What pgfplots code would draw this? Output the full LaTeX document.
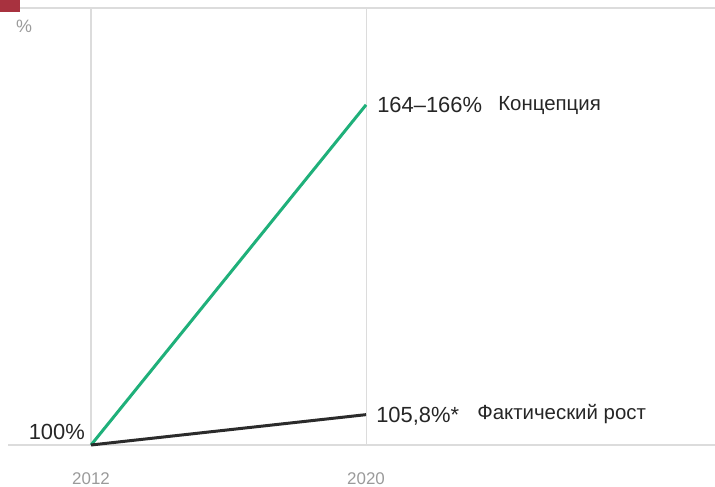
\documentclass[border=0pt]{standalone}
\usepackage{pgfplots}
\pgfplotsset{compat=1.18}
\usepackage{fontspec}
\setmainfont{Liberation Sans}
\definecolor{grn}{HTML}{1FB07A}
\definecolor{blk}{HTML}{2B2B2B}
\definecolor{txt}{HTML}{262626}
\definecolor{gry}{HTML}{9A9A9A}
\definecolor{gridc}{HTML}{DCDCDC}
\definecolor{redsq}{HTML}{A8323F}
\begin{document}
\begin{tikzpicture}[x=1bp,y=1bp]
\begin{axis}[at={(8bp,42bp)}, anchor=south west, scale only axis,
  width=707bp, height=437bp,
  xmin=2009.585, xmax=2030.15, ymin=100, ymax=183.5,
  axis line style={draw=none},
  xtick={2012,2020}, ytick={100,183.5},
  xticklabels={}, yticklabels={},
  major tick length=0pt,
  xmajorgrids, ymajorgrids,
  grid style={gridc, line width=1.1bp},
  clip=false]
\addplot[grn, line width=3bp] coordinates {(2012,100) (2020,165)};
\addplot[blk, line width=3bp] coordinates {(2012,100) (2020,105.8)};
\node[anchor=base, text=gry, font=\fontsize{17}{20}\selectfont] at (axis cs:2012,100) [yshift=-39bp] {2012};
\node[anchor=base, text=gry, font=\fontsize{17}{20}\selectfont] at (axis cs:2020,100) [yshift=-39bp] {2020};
\node[anchor=base east, inner sep=0pt, text=txt, font=\fontsize{22}{26}\selectfont] at (axis cs:2012,100) [xshift=-6bp, yshift=6bp] {100\%};
\node[anchor=base west, inner sep=0pt, text=txt, font=\fontsize{22}{26}\selectfont] at (axis cs:2020,165) [xshift=11bp, yshift=-8bp] {164–166\%};
\node[anchor=base west, inner sep=0pt, text=txt, font=\fontsize{20.5}{24}\selectfont] at (axis cs:2020,165) [xshift=132bp, yshift=-6bp] {Концепция};
\node[anchor=base west, inner sep=0pt, text=txt, font=\fontsize{22}{26}\selectfont] at (axis cs:2020,105.8) [xshift=10bp, yshift=-8bp] {105,8\%*};
\node[anchor=base west, inner sep=0pt, text=txt, font=\fontsize{20.5}{24}\selectfont] at (axis cs:2020,105.8) [xshift=111bp, yshift=-5bp] {Фактический рост};
\end{axis}
\node[anchor=base west, inner sep=0pt, text=gry, font=\fontsize{18}{20}\selectfont] at (16bp,454bp) {\%};
\fill[redsq] (0,475bp) rectangle (20bp,487bp);
\pgfresetboundingbox
\path[use as bounding box] (0,0) rectangle (715bp,487bp);
\end{tikzpicture}
\end{document}
